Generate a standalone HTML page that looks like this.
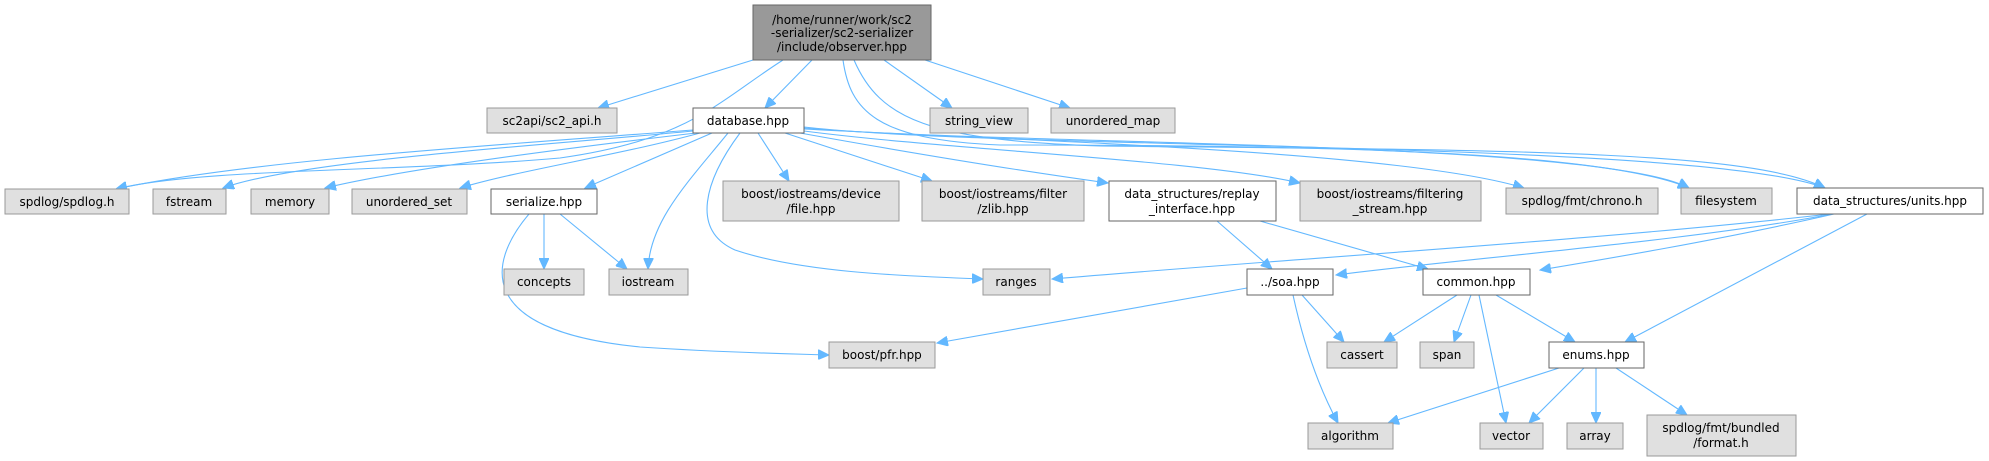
<!DOCTYPE html>
<html><head><meta charset="utf-8"><style>
html,body{margin:0;padding:0;background:#fff;}
svg{display:block;}
text{font-family:"DejaVu Sans","Liberation Sans",sans-serif;font-size:12px;fill:#000;}
.g{fill:#e0e0e0;stroke:#999;stroke-width:1}
.w{fill:#fff;stroke:#666;stroke-width:1}
.e{fill:none;stroke:#63b8ff;stroke-width:1.1}
</style></head><body>
<svg width="1989" height="461" viewBox="0 0 1989 461" xmlns="http://www.w3.org/2000/svg">
<defs><marker id="a" markerUnits="userSpaceOnUse" markerWidth="12" markerHeight="10" refX="11" refY="5" orient="auto"><path d="M0,0 L11,5 L0,10 Z" fill="#63b8ff" stroke="#63b8ff"/></marker></defs>
<g class="e" marker-end="url(#a)">
<path d="M753,60 L598,108"/>
<path d="M783,60 C720,100 690,140 560,158 C400,172 200,168 116,189"/>
<path d="M812,60 L765,108"/>
<path d="M884,60 L952,108"/>
<path d="M925,60 L1070,108"/>
<path d="M843,60 C850,110 875,140 1000,145 C1300,145 1600,150 1689,188"/>
<path d="M854,60 C880,120 930,140 1100,146 C1500,150 1750,150 1825,188"/>
<path d="M693,130 C500,145 250,160 116,189"/>
<path d="M693,131 C550,145 300,160 223,188"/>
<path d="M696,133 C550,150 400,170 325,188"/>
<path d="M700,133 C620,155 520,170 460,188"/>
<path d="M712,133 L585,188"/>
<path d="M728,133 C690,180 650,220 648,269"/>
<path d="M740,133 C705,180 690,230 735,250 C800,272 900,276 983,279"/>
<path d="M758,133 L789,181"/>
<path d="M785,133 L932,181"/>
<path d="M800,133 C950,160 1050,175 1108,183"/>
<path d="M804,131 C950,150 1200,160 1300,183"/>
<path d="M804,129 C1000,140 1400,150 1524,188"/>
<path d="M804,128 C1000,145 1600,140 1689,188"/>
<path d="M804,127 C1000,150 1700,140 1825,188"/>
<path d="M544,214 L544,269"/>
<path d="M560,214 L627,269"/>
<path d="M529,214 C490,260 470,330 640,347 C730,353 800,354 829,355"/>
<path d="M1217,221 L1272,269"/>
<path d="M1260,221 L1428,269"/>
<path d="M1830,214 C1600,240 1300,258 1052,279"/>
<path d="M1832,214 C1700,240 1450,260 1336,275"/>
<path d="M1834,214 C1720,240 1600,260 1540,270"/>
<path d="M1867,214 L1625,342"/>
<path d="M1247,288 L937,343"/>
<path d="M1302,295 L1344,342"/>
<path d="M1293,295 C1305,350 1320,390 1338,423"/>
<path d="M1457,295 L1384,342"/>
<path d="M1471,295 L1454,342"/>
<path d="M1479,295 L1506,423"/>
<path d="M1496,295 L1575,342"/>
<path d="M1559,368 L1388,423"/>
<path d="M1584,368 L1529,423"/>
<path d="M1596,368 L1596,423"/>
<path d="M1616,368 L1687,415"/>
</g>
<rect x="753" y="5" width="178" height="55" fill="#999" stroke="#666"/>
<text x="842" y="24" text-anchor="middle">/home/runner/work/sc2</text>
<text x="842" y="37" text-anchor="middle">-serializer/sc2-serializer</text>
<text x="842" y="51" text-anchor="middle">/include/observer.hpp</text>
<g>
<rect class="g" x="487" y="108" width="130" height="25"/><text x="552" y="125" text-anchor="middle">sc2api/sc2_api.h</text>
<rect class="w" x="693" y="108" width="111" height="25"/><text x="748" y="125" text-anchor="middle">database.hpp</text>
<rect class="g" x="930" y="108" width="98" height="25"/><text x="979" y="125" text-anchor="middle">string_view</text>
<rect class="g" x="1051" y="108" width="124" height="25"/><text x="1113" y="125" text-anchor="middle">unordered_map</text>
<rect class="g" x="5" y="189" width="124" height="25"/><text x="67" y="206" text-anchor="middle">spdlog/spdlog.h</text>
<rect class="g" x="153" y="189" width="73" height="25"/><text x="189" y="206" text-anchor="middle">fstream</text>
<rect class="g" x="251" y="189" width="78" height="25"/><text x="290" y="206" text-anchor="middle">memory</text>
<rect class="g" x="352" y="189" width="115" height="25"/><text x="409" y="206" text-anchor="middle">unordered_set</text>
<rect class="w" x="491" y="189" width="106" height="25"/><text x="544" y="206" text-anchor="middle">serialize.hpp</text>
<rect class="g" x="723" y="181" width="176" height="40"/><text x="811" y="198" text-anchor="middle">boost/iostreams/device</text><text x="811" y="213" text-anchor="middle">/file.hpp</text>
<rect class="g" x="922" y="181" width="162" height="40"/><text x="1003" y="198" text-anchor="middle">boost/iostreams/filter</text><text x="1003" y="213" text-anchor="middle">/zlib.hpp</text>
<rect class="w" x="1109" y="181" width="167" height="40"/><text x="1192" y="198" text-anchor="middle">data_structures/replay</text><text x="1192" y="213" text-anchor="middle">_interface.hpp</text>
<rect class="g" x="1300" y="181" width="181" height="40"/><text x="1390" y="198" text-anchor="middle">boost/iostreams/filtering</text><text x="1390" y="213" text-anchor="middle">_stream.hpp</text>
<rect class="g" x="1506" y="188" width="152" height="26"/><text x="1582" y="205" text-anchor="middle">spdlog/fmt/chrono.h</text>
<rect class="g" x="1681" y="188" width="91" height="26"/><text x="1726" y="205" text-anchor="middle">filesystem</text>
<rect class="w" x="1797" y="188" width="186" height="26"/><text x="1890" y="205" text-anchor="middle">data_structures/units.hpp</text>
<rect class="g" x="504" y="269" width="80" height="26"/><text x="544" y="286" text-anchor="middle">concepts</text>
<rect class="g" x="609" y="269" width="79" height="26"/><text x="648" y="286" text-anchor="middle">iostream</text>
<rect class="g" x="983" y="269" width="67" height="26"/><text x="1016" y="286" text-anchor="middle">ranges</text>
<rect class="w" x="1247" y="269" width="86" height="26"/><text x="1290" y="286" text-anchor="middle">../soa.hpp</text>
<rect class="w" x="1423" y="269" width="107" height="26"/><text x="1476" y="286" text-anchor="middle">common.hpp</text>
<rect class="g" x="829" y="342" width="106" height="26"/><text x="882" y="359" text-anchor="middle">boost/pfr.hpp</text>
<rect class="g" x="1327" y="342" width="70" height="26"/><text x="1362" y="359" text-anchor="middle">cassert</text>
<rect class="g" x="1420" y="342" width="54" height="26"/><text x="1447" y="359" text-anchor="middle">span</text>
<rect class="w" x="1549" y="342" width="95" height="26"/><text x="1596" y="359" text-anchor="middle">enums.hpp</text>
<rect class="g" x="1308" y="423" width="85" height="26"/><text x="1350" y="440" text-anchor="middle">algorithm</text>
<rect class="g" x="1480" y="423" width="63" height="26"/><text x="1511" y="440" text-anchor="middle">vector</text>
<rect class="g" x="1567" y="423" width="56" height="26"/><text x="1595" y="440" text-anchor="middle">array</text>
<rect class="g" x="1647" y="415" width="149" height="41"/><text x="1721" y="432" text-anchor="middle">spdlog/fmt/bundled</text><text x="1721" y="447" text-anchor="middle">/format.h</text>
</g>
</svg>
</body></html>
